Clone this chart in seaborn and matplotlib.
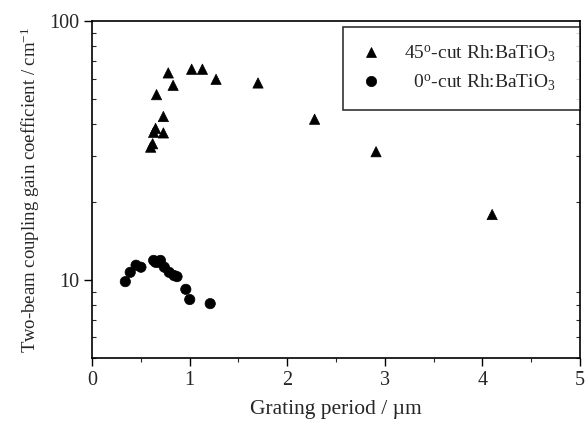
import pandas as pd
import seaborn as sns
import matplotlib.pyplot as plt
from matplotlib.ticker import FixedLocator, NullFormatter, MultipleLocator

# 45-degree cut crystal
period_45 = [0.60, 0.62, 0.63, 0.65, 0.73, 0.73, 0.66, 0.78, 0.83, 1.02, 1.13, 1.27, 1.70, 2.28, 2.91, 4.10]
gain_45 = [32.6, 33.6, 37.2, 38.5, 37.0, 42.8, 52.0, 63.1, 56.5, 65.2, 65.2, 59.6, 57.7, 41.8, 31.3, 17.9]

# 0-degree cut crystal
period_0 = [0.34, 0.39, 0.45, 0.50, 0.63, 0.65, 0.68, 0.70, 0.74, 0.79, 0.84, 0.87, 0.96, 1.00, 1.21]
gain_0 = [9.85, 10.7, 11.4, 11.2, 11.9, 11.7, 11.7, 11.9, 11.2, 10.7, 10.4, 10.3, 9.2, 8.4, 8.1]

label_45 = r'45$^{\rm o}$-cut Rh:BaTiO$_3$'
label_0 = r'  0$^{\rm o}$-cut Rh:BaTiO$_3$'

df = pd.concat([
    pd.DataFrame({'period': period_45, 'gain': gain_45, 'sample': label_45}),
    pd.DataFrame({'period': period_0, 'gain': gain_0, 'sample': label_0}),
])

sns.set_style("ticks")
plt.rcParams['font.family'] = ['Liberation Serif', 'DejaVu Serif']
plt.rcParams['mathtext.fontset'] = 'custom'
plt.rcParams['mathtext.rm'] = 'Liberation Serif'
plt.rcParams['mathtext.it'] = 'Liberation Serif:italic'

fig = plt.figure(figsize=(5.87, 4.23), dpi=100)
ax = fig.add_axes([0.157, 0.154, 0.831, 0.796])

sns.scatterplot(data=df, x='period', y='gain', style='sample', hue='sample',
                markers={label_45: '^', label_0: 'o'},
                palette={label_45: 'black', label_0: 'black'},
                s=55, edgecolor='black', linewidth=0.5, ax=ax)

ax.set_yscale('log')
ax.set_xlim(0, 5)
ax.set_ylim(5, 100)
ax.xaxis.set_major_locator(MultipleLocator(1))
ax.xaxis.set_minor_locator(MultipleLocator(0.5))
ax.yaxis.set_major_locator(FixedLocator([10, 100]))
ax.yaxis.set_minor_locator(FixedLocator([5, 6, 7, 8, 9, 20, 30, 40, 50, 60, 70, 80, 90]))
ax.yaxis.set_minor_formatter(NullFormatter())
ax.set_yticklabels(['10', '100'])

ax.tick_params(axis='both', which='major', labelsize=14.5, length=6, width=1, color='black')
ax.tick_params(axis='both', which='minor', length=3, width=0.8)
ax.tick_params(axis='y', which='minor', direction='in', right=True)
for sp in ax.spines.values():
    sp.set_color('black')
    sp.set_linewidth(1.2)

ax.set_xlabel('Grating period / \u00b5m', fontsize=15.5, labelpad=7)
ax.set_ylabel('Two-beam coupling gain coefficient / cm$^{-1}$', fontsize=13.5, labelpad=5)

leg = ax.legend(loc='upper left', bbox_to_anchor=(0.514, 0, 0.486, 0.982), mode='expand',
                borderaxespad=0, fontsize=14, frameon=True, fancybox=False,
                edgecolor='black', handlelength=1.2, handletextpad=1.1, borderpad=0.85,
                labelspacing=0.45, markerscale=1.0)
leg.get_frame().set_linewidth(1.2)

fig.savefig('out.png', dpi=100)
